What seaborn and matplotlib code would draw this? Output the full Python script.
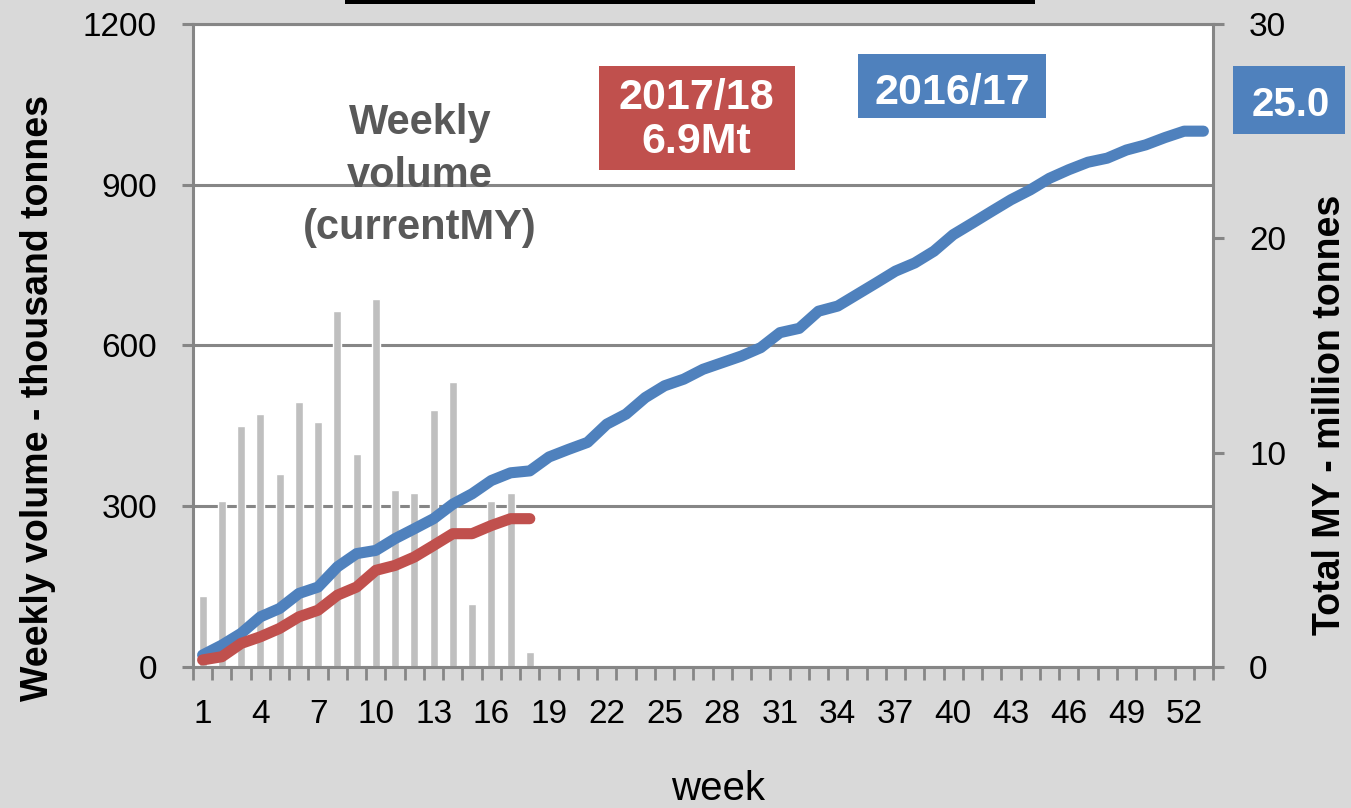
import numpy as np
import matplotlib
matplotlib.use("Agg")
import matplotlib.pyplot as plt
from matplotlib.patches import Rectangle
from matplotlib.ticker import FixedLocator, NullFormatter
import seaborn as sns

# ---- data ----
weeks = list(range(1, 54))
weekly_weeks = list(range(1, 19))
weekly_volume_kt = [132, 310, 449, 472, 361, 494, 457, 664, 398, 686,
                    331, 325, 479, 531, 117, 310, 325, 28]
total_2017_18_mt = [0.33, 0.48, 1.10, 1.41, 1.80, 2.34, 2.65, 3.35, 3.73, 4.51,
                    4.74, 5.13, 5.67, 6.22, 6.22, 6.60, 6.92, 6.92]
total_2016_17_mt = [0.56, 1.02, 1.57, 2.34, 2.73, 3.43, 3.73, 4.67, 5.29, 5.44,
                    5.99, 6.45, 6.92, 7.60, 8.08, 8.70, 9.06, 9.15, 9.80, 10.15,
                    10.48, 11.33, 11.80, 12.57, 13.12, 13.43, 13.89, 14.20, 14.51, 14.90,
                    15.60, 15.80, 16.60, 16.84, 17.38, 17.92, 18.47, 18.85, 19.40, 20.17,
                    20.71, 21.26, 21.80, 22.26, 22.80, 23.20, 23.55, 23.74, 24.12, 24.36,
                    24.70, 25.00, 25.00]
left_ticks = [0, 300, 600, 900, 1200]
right_ticks = [0, 10, 20, 30]
week_labels = list(range(1, 53, 3))

# ---- style ----
BG = "#D9D9D9"
GRID = "#868686"
BAR = "#BFBFBF"
BLUE = "#4F81BD"
RED = "#C0504D"
TXT_GREY = "#595959"

sns.set_theme(style="white")
plt.rcParams["font.family"] = ["Liberation Sans", "DejaVu Sans"]

W, H = 1351, 808
fig = plt.figure(figsize=(W / 100, H / 100), dpi=100, facecolor=BG)
ax = fig.add_axes([193 / W, 1 - 667 / H, 1020 / W, 643 / H])
ax.set_facecolor("white")

# weekly volumes as thin grey bars (left axis)
sns.barplot(x=weekly_weeks, y=weekly_volume_kt, native_scale=True, width=0.42,
            color=BAR, saturation=1, errorbar=None, ax=ax, zorder=2)

ax.set_xlim(0.5, 53.5)
ax.set_ylim(0, 1200)
ax.set_axisbelow(True)
ax.yaxis.set_major_locator(FixedLocator(left_ticks))
ax.yaxis.grid(True, color=GRID, linewidth=2.2)
ax.xaxis.grid(False)

ax.xaxis.set_major_locator(FixedLocator(week_labels))
ax.set_xticklabels([str(w) for w in week_labels])
ax.xaxis.set_minor_locator(FixedLocator(np.arange(0.5, 54.0, 1.0)))
ax.xaxis.set_minor_formatter(NullFormatter())
ax.tick_params(axis="x", which="major", length=0, pad=23, labelsize=24,
               labelcolor="black")
ax.tick_params(axis="x", which="minor", direction="out", length=9, width=2,
               color=GRID, bottom=True)
ax.tick_params(axis="y", which="major", direction="out", length=8, width=2.2,
               color=GRID, left=True, labelsize=24, pad=18, labelcolor="black")

for side in ["left", "bottom", "top"]:
    ax.spines[side].set_visible(True)
    ax.spines[side].set_color(GRID)
    ax.spines[side].set_linewidth(2.2)
ax.spines["right"].set_visible(False)

# cumulative totals (right axis)
ax2 = ax.twinx()
sns.lineplot(x=weeks, y=total_2016_17_mt, ax=ax2, color=BLUE, linewidth=8,
             solid_capstyle="round", solid_joinstyle="round")
sns.lineplot(x=weekly_weeks, y=total_2017_18_mt, ax=ax2, color=RED, linewidth=8,
             solid_capstyle="round", solid_joinstyle="round")
ax2.set_ylim(0, 30)
ax2.set_xlim(0.5, 53.5)
ax2.yaxis.set_major_locator(FixedLocator(right_ticks))
ax2.grid(False)
ax2.tick_params(axis="y", which="major", direction="out", length=8, width=2.2,
                color=GRID, right=True, labelsize=24, pad=18, labelcolor="black")
for side in ["left", "bottom", "top"]:
    ax2.spines[side].set_visible(False)
ax2.spines["right"].set_visible(True)
ax2.spines["right"].set_color(GRID)
ax2.spines["right"].set_linewidth(2.2)

# axis titles
ax.set_xlabel("week", fontsize=29, color="black", va="center")
ax.xaxis.set_label_coords((718 - 193) / 1020, (667 - 789) / 643)
ax.set_ylabel("Weekly volume - thousand tonnes", fontsize=27, fontweight="bold",
              color="black", va="center")
ax.yaxis.set_label_coords((38 - 193) / 1020, (667 - 398) / 643)
ax2.set_ylabel("Total MY - million tonnes", fontsize=27, fontweight="bold",
               color="black", va="center", rotation=90)
ax2.yaxis.set_label_coords((1330 - 193) / 1020, (667 - 415) / 643)

# in-plot annotations
ax2.text(0.2225, 0.764, "Weekly\nvolume\n(currentMY)", transform=ax2.transAxes,
         ha="center", va="center", fontsize=30, fontweight="bold",
         color=TXT_GREY, linespacing=1.4)

ax2.add_patch(Rectangle((0.398, 0.773), 0.192, 0.162, transform=ax2.transAxes,
                        facecolor=RED, edgecolor="none", zorder=5))
ax2.text(0.4938, 0.8678, "2017/18", transform=ax2.transAxes, ha="center",
         va="baseline", fontsize=31, fontweight="bold", color="white", zorder=6)
ax2.text(0.4938, 0.7994, "6.9Mt", transform=ax2.transAxes, ha="center",
         va="baseline", fontsize=31, fontweight="bold", color="white", zorder=6)

ax2.add_patch(Rectangle((0.652, 0.854), 0.184, 0.099, transform=ax2.transAxes,
                        facecolor=BLUE, edgecolor="none", zorder=5))
ax2.text(0.744, 0.8756, "2016/17", transform=ax2.transAxes, ha="center",
         va="baseline", fontsize=31, fontweight="bold", color="white", zorder=6)

ax2.add_patch(Rectangle((1.0196, 0.829), 0.1098, 0.106, transform=ax2.transAxes,
                        facecolor=BLUE, edgecolor="none", zorder=5, clip_on=False))
ax2.text(1.0765, 0.857, "25.0", transform=ax2.transAxes, ha="center",
         va="baseline", fontsize=29, fontweight="bold", color="white", zorder=6,
         clip_on=False)

# dark rule along the top edge
fig.add_artist(Rectangle((345 / W, 1 - 4 / H), 690 / W, 4 / H,
                         transform=fig.transFigure, facecolor="black",
                         edgecolor="none"))

fig.savefig("out.png", dpi=100, facecolor=BG)
